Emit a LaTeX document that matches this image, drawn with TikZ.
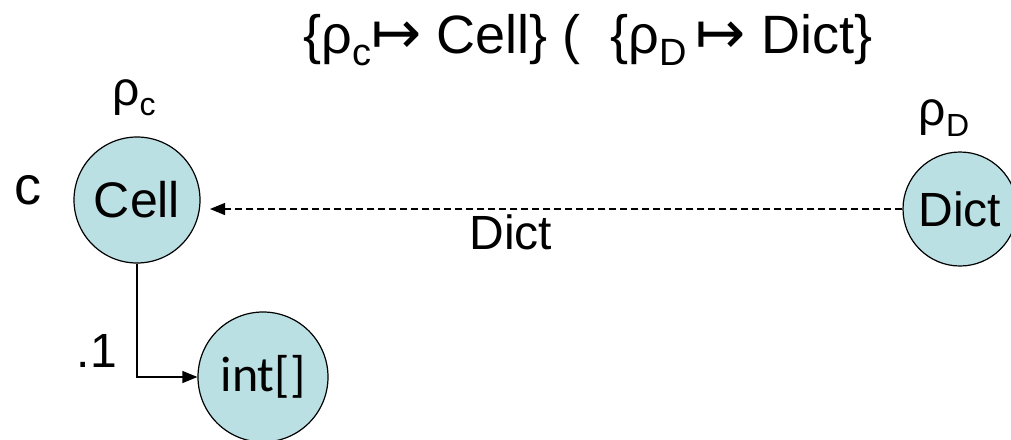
\documentclass[tikz,border=0pt]{standalone}
\usepackage{fontspec}
\setmainfont{Liberation Sans}
\newfontfamily\dejavu{DejaVu Sans}
\newfontfamily\carlito{Carlito}
\usetikzlibrary{arrows.meta}
\definecolor{nodefill}{RGB}{187,224,228}
\newcommand{\mysub}[2]{{\fontsize{#1}{#1}\selectfont\raisebox{-0.32em}{#2}}}
\newcommand{\mapsarrow}{{\dejavu\fontsize{60}{60}\selectfont ↦}}
\tikzset{
  objnode/.style={circle, draw=black, line width=1.2pt, fill=nodefill, inner sep=0pt},
  bigtext/.style={font=\fontsize{48}{56}\selectfont},
  titletext/.style={font=\fontsize{54}{60}\selectfont},
  conn/.style={line width=1.2pt, -{Triangle[length=15pt,width=12pt]}},
  dconn/.style={conn, dash pattern=on 7pt off 4pt}
}
\begin{document}
\begin{tikzpicture}[x=1pt,y=-1pt]
\useasboundingbox (0,0) rectangle (1011,439);
\node[titletext] (title) at (588,40) {\{ρ\mysub{38}{c}\mapsarrow\ Cell\} (\ \ \{ρ\mysub{38}{D}\,\mapsarrow\ Dict\}};
\node[objnode, minimum size=126pt, font=\fontsize{50}{56}\selectfont] (cell) at (137,200) {Cell};
\node[objnode, minimum size=130pt, font=\carlito\fontsize{50}{56}\selectfont] (int) at (263,377) {int[]};
\node[objnode, minimum size=114pt, font=\fontsize{48}{56}\selectfont] (dict) at (960,209) {Dict};
\node[bigtext] (rhoc) at (134,98) {ρ\mysub{32}{c}};
\node[bigtext] (rhod) at (944,118) {ρ\mysub{32}{D}};
\node[font=\fontsize{54}{60}\selectfont] (clab) at (28,190) {c};
\coordinate (tip) at (210,209);
\draw[dconn] (dict.west) -- (tip);
\node[bigtext] (dictlab) at (511,232) {Dict};
\draw[conn] (cell.south) |- (int.west);
\node[bigtext] (dotone) at (97,351) {.1};
\end{tikzpicture}
\end{document}
